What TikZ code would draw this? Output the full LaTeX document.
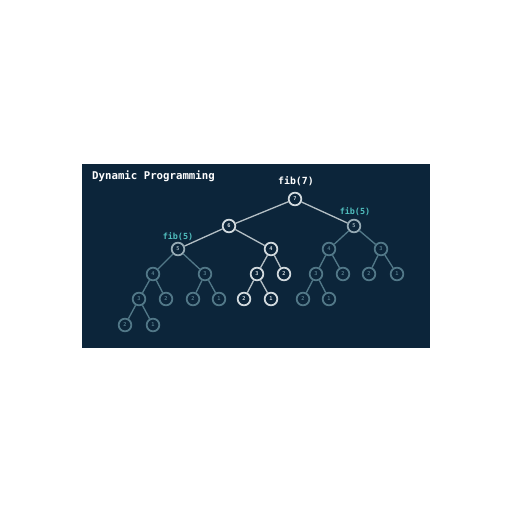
\documentclass[tikz,border=0pt]{standalone}
\usepackage{fontspec}
\setmonofont{DejaVu Sans Mono}
\definecolor{bgnavy}{RGB}{12,37,58}
\definecolor{hot}{RGB}{210,218,222}
\definecolor{warm}{RGB}{150,170,180}
\definecolor{cold}{RGB}{82,120,136}
\definecolor{memo}{RGB}{80,190,190}
\tikzset{
    call/.style={circle, draw=#1, fill=bgnavy, text=#1, line width=1pt,
        minimum size=7.2pt, inner sep=0pt, font=\ttfamily\bfseries\fontsize{3}{3.5}\selectfont},
    call/.default=hot,
    edge/.style={draw=#1, line width=0.75pt},
    edge/.default=hot!85!bgnavy
}
\begin{document}
\begin{tikzpicture}[x=0.02cm, y=-0.02cm]

        \useasboundingbox [fill=white] (0,0) rectangle (512,512);
        \fill [bgnavy] (82,164) rectangle (430,348);

        \node [anchor=west, text=white, font=\ttfamily\bfseries\fontsize{6.1}{7}\selectfont] (title) at (86,176) {Dynamic Programming};

        % rows
        \def\ra{199}
        \def\rb{226}
        \def\rc{249}
        \def\rd{274}
        \def\re{299}
        \def\rf{325}

        \node [call] (n7) at (295,\ra) {7};
        \node [call] (n6) at (229,\rb) {6};
        \node [call=warm] (n5r) at (354,\rb) {5};
        \node [call=warm] (n5l) at (178,\rc) {5};
        \node [call] (n4m) at (271,\rc) {4};

        % left fib(5)
        \node [call=cold] (n4l) at (153,\rd) {4};
        \node [call=cold] (n3l) at (205,\rd) {3};
        \node [call=cold] (n3ll) at (139,\re) {3};
        \node [call=cold] (n2ll) at (166,\re) {2};
        \node [call=cold] (n2lr) at (193,\re) {2};
        \node [call=cold] (n1lr) at (219,\re) {1};
        \node [call=cold] (n2lll) at (125,\rf) {2};
        \node [call=cold] (n1lll) at (153,\rf) {1};

        % middle fib(4)
        \node [call] (n3m) at (257,\rd) {3};
        \node [call] (n2m) at (284,\rd) {2};
        \node [call] (n2mm) at (244,\re) {2};
        \node [call] (n1mm) at (271,\re) {1};

        % right fib(5)
        \node [call=cold] (n4r) at (329,\rc) {4};
        \node [call=cold] (n3r) at (381,\rc) {3};
        \node [call=cold] (n3rl) at (316,\rd) {3};
        \node [call=cold] (n2rl) at (343,\rd) {2};
        \node [call=cold] (n2rr) at (369,\rd) {2};
        \node [call=cold] (n1rr) at (397,\rd) {1};
        \node [call=cold] (n2rll) at (303,\re) {2};
        \node [call=cold] (n1rll) at (329,\re) {1};

        \foreach \a/\b in {n7/n6, n7/n5r, n6/n5l, n6/n4m, n4m/n3m, n4m/n2m, n3m/n2mm, n3m/n1mm}
            \draw [edge] (\a) -- (\b);
        \foreach \a/\b in {n5l/n4l, n5l/n3l, n4l/n3ll, n4l/n2ll, n3ll/n2lll, n3ll/n1lll, n3l/n2lr, n3l/n1lr,
                           n5r/n4r, n5r/n3r, n4r/n3rl, n4r/n2rl, n3rl/n2rll, n3rl/n1rll, n3r/n2rr, n3r/n1rr}
            \draw [edge=cold] (\a) -- (\b);

        \node [text=white, font=\ttfamily\bfseries\fontsize{5.6}{7}\selectfont] (l7) at (296,181) {fib(7)};
        \node [text=memo, font=\ttfamily\bfseries\fontsize{4.8}{6}\selectfont] (l5r) at (355,212) {fib(5)};
        \node [text=memo, font=\ttfamily\bfseries\fontsize{4.8}{6}\selectfont] (l5l) at (178,237) {fib(5)};

    \end{tikzpicture}
\end{document}
